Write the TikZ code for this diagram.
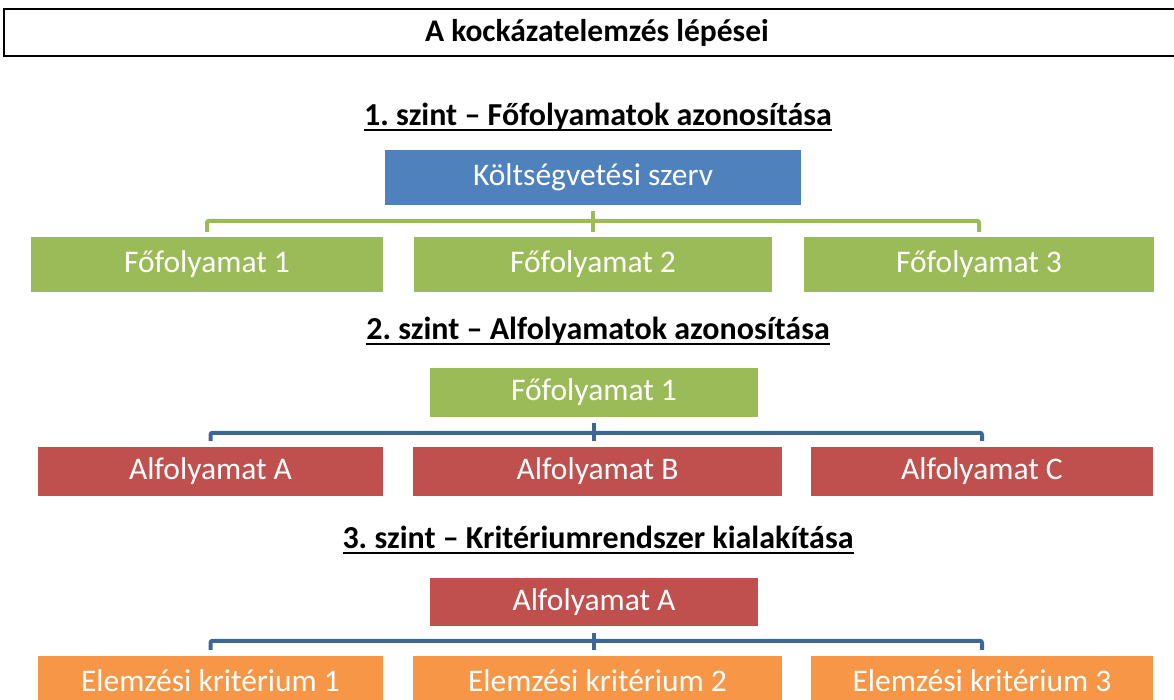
\documentclass[tikz,border=0pt]{standalone}
\usepackage{fontspec}
\setmainfont{Carlito}
\usetikzlibrary{positioning}
\definecolor{kek}{HTML}{4F81BD}
\definecolor{zold}{HTML}{9BBB59}
\definecolor{piros}{HTML}{C0504D}
\definecolor{narancs}{HTML}{F79646}
\definecolor{sotetkek}{HTML}{3D6597}
\newcommand\alahuzott[1]{\setbox0\hbox{#1}\rlap{\raisebox{-5.5pt}{\rule{\wd0}{2.3pt}}}\box0}
\frenchspacing

\begin{document}
\begin{tikzpicture}[x=1pt, y=-1pt,
                      every node/.style = {inner sep=0pt, align=center},
                      doboz/.style = {minimum height=55pt, text=white,
                        font=\fontsize{31.5}{36}\selectfont},
                      cim/.style = {font=\bfseries\fontsize{31.5}{36}\selectfont},
                      szint/.style = {font=\bfseries\fontsize{32}{36}\selectfont},
                      zoldvonal/.style = {draw=zold, line width=4pt, rounded corners=2pt},
                      kekvonal/.style = {draw=sotetkek, line width=4pt, rounded corners=2pt}]
  \useasboundingbox (0,0) rectangle (1174,700);
  \clip (0,0) rectangle (1174,700);
  \node[cim, draw, line width=2.5pt, minimum width=1186pt, minimum height=47pt] (fejlec) at (597,32.5) {A kockázatelemzés lépései};
  % 1. szint
  \node[szint] (szint1) at (598,117) {\alahuzott{1. szint – Főfolyamatok azonosítása}};
  \node[doboz, fill=kek, minimum width=416pt] (szerv) at (593,177.5) {Költségvetési szerv};
  \node[doboz, fill=zold, minimum width=352pt] (fo1) at (207,264.5) {Főfolyamat 1};
  \node[doboz, fill=zold, minimum width=358pt] (fo2) at (593,264.5) {Főfolyamat 2};
  \node[doboz, fill=zold, minimum width=350pt] (fo3) at (979,264.5) {Főfolyamat 3};
  \draw[zoldvonal] ([yshift=5pt]fo1.north) |- ([yshift=16pt]fo2.north) -| ([yshift=5pt]fo3.north);
  \draw[zoldvonal] ([yshift=-6pt]szerv.south) -- ([yshift=5pt]fo2.north);
  % 2. szint
  \node[szint] (szint2) at (598,331) {\alahuzott{2. szint – Alfolyamatok azonosítása}};
  \node[doboz, fill=zold, minimum width=328pt, minimum height=49pt] (fo) at (594,392.5) {Főfolyamat 1};
  \node[doboz, fill=piros, minimum width=345pt, minimum height=49pt] (alA) at (210.5,471.5) {Alfolyamat A};
  \node[doboz, fill=piros, minimum width=369pt, minimum height=49pt] (alB) at (597.5,471.5) {Alfolyamat B};
  \node[doboz, fill=piros, minimum width=342pt, minimum height=49pt] (alC) at (982,471.5) {Alfolyamat C};
  \draw[kekvonal] ([yshift=6pt]alA.north) |- ([yshift=14pt]alB.north) -| ([yshift=6pt]alC.north);
  \draw[kekvonal] ([yshift=-6pt]fo.south) -- ([yshift=6pt]fo.south |- alB.north);
  % 3. szint
  \node[szint] (szint3) at (598,540) {\alahuzott{3. szint – Kritériumrendszer kialakítása}};
  \node[doboz, fill=piros, minimum width=328pt, minimum height=48pt] (al) at (594,602) {Alfolyamat A};
  \node[doboz, fill=narancs, minimum width=345pt, minimum height=49pt] (kr1) at (210.5,680.5) {Elemzési kritérium 1};
  \node[doboz, fill=narancs, minimum width=369pt, minimum height=49pt] (kr2) at (597.5,680.5) {Elemzési kritérium 2};
  \node[doboz, fill=narancs, minimum width=342pt, minimum height=49pt] (kr3) at (982,680.5) {Elemzési kritérium 3};
  \draw[kekvonal] ([yshift=6pt]kr1.north) |- ([yshift=15pt]kr2.north) -| ([yshift=6pt]kr3.north);
  \draw[kekvonal] ([yshift=-7pt]al.south) -- ([yshift=6pt]al.south |- kr2.north);
\end{tikzpicture}
\end{document}
